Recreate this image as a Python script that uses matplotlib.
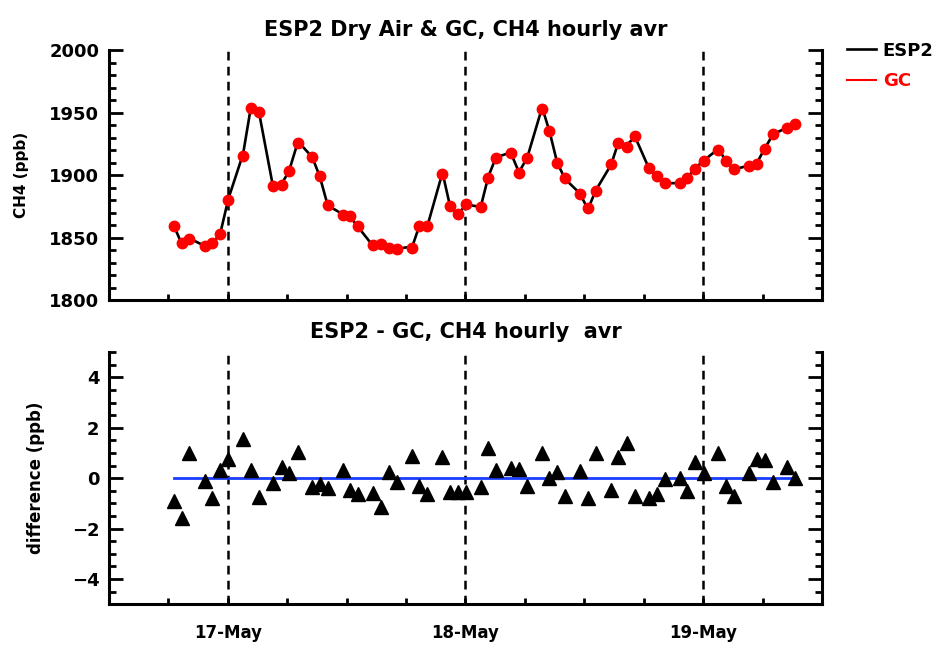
import numpy as np
import matplotlib
matplotlib.use('Agg')
import matplotlib.pyplot as plt
from matplotlib.ticker import MultipleLocator, FixedLocator

plt.rcParams['font.family'] = ['DejaVu Sans']
plt.rcParams['font.weight'] = 'bold'

# hours since 17-May 00:00
hours = [-5.40, -4.63, -3.91, -2.33, -1.56, -0.77, 0.06, 1.54, 2.32, 3.15,
         4.56, 5.43, 6.18, 7.09, 8.53, 9.28, 10.09, 11.62, 12.35, 13.17,
         14.64, 15.49, 16.25, 17.08, 18.63, 19.31, 20.12, 21.68, 22.46, 23.23,
         24.06, 25.54, 26.31, 27.08, 28.56, 29.40, 30.23, 31.74, 32.48, 33.25,
         34.05, 35.56, 36.36, 37.19, 38.70, 39.45, 40.29, 41.13, 42.54, 43.34,
         44.15, 45.65, 46.39, 47.16, 48.05, 49.54, 50.34, 51.10, 52.62, 53.45,
         54.23, 55.07, 56.48, 57.29]

gc_ch4 = [1859.4, 1846.0, 1848.5, 1843.3, 1846.0, 1852.7, 1880.4, 1915.3, 1953.5, 1950.8,
          1891.1, 1892.3, 1903.0, 1925.8, 1914.5, 1899.2, 1876.1, 1868.2, 1866.9, 1858.9,
          1844.1, 1844.7, 1841.4, 1841.1, 1841.9, 1858.9, 1858.9, 1901.1, 1875.0, 1868.9,
          1876.9, 1874.8, 1897.6, 1913.7, 1917.7, 1901.9, 1914.0, 1953.0, 1935.2, 1910.0,
          1897.6, 1885.0, 1873.4, 1887.1, 1908.6, 1925.3, 1922.6, 1931.2, 1906.0, 1899.2,
          1893.5, 1893.5, 1897.9, 1904.6, 1911.3, 1919.9, 1911.3, 1905.2, 1907.3, 1909.2,
          1920.5, 1932.8, 1937.4, 1940.9]

diff = [-0.89, -1.59, 1.00, -0.11, -0.80, 0.33, 0.76, 1.55, 0.33, -0.76,
        -0.17, 0.46, 0.20, 1.06, -0.33, -0.23, -0.40, 0.33, -0.48, -0.63,
        -0.57, -1.13, 0.26, -0.13, 0.89, -0.31, -0.63, 0.84, -0.53, -0.56,
        -0.53, -0.33, 1.19, 0.33, 0.40, 0.36, -0.29, 1.02, 0.00, 0.26,
        -0.71, 0.30, -0.80, 1.00, -0.47, 0.84, 1.39, -0.69, -0.80, -0.63,
        -0.04, 0.00, -0.49, 0.66, 0.20, 1.00, -0.29, -0.71, 0.20, 0.77,
        0.73, -0.13, 0.46, 0.00]

day_hours = [0, 24, 48]
day_labels = ['17-May', '18-May', '19-May']

t = np.array(hours)
gc = np.array(gc_ch4)
d = np.array(diff)
esp2 = gc + d
mean_diff = d.mean()

fig = plt.figure(figsize=(9.48, 6.47), dpi=100)
ax1 = fig.add_axes([0.115, 0.5363, 0.752, 0.3864])
ax2 = fig.add_axes([0.115, 0.066, 0.752, 0.3895])


def style_axis(ax, ymajor, yminor):
    ax.set_xlim(-12, 60)
    ax.spines['top'].set_visible(False)
    for s in ['left', 'right', 'bottom']:
        ax.spines[s].set_linewidth(2.2)
    ax.xaxis.set_major_locator(FixedLocator(day_hours))
    ax.xaxis.set_minor_locator(MultipleLocator(6))
    ax.yaxis.set_major_locator(MultipleLocator(ymajor))
    ax.yaxis.set_minor_locator(MultipleLocator(yminor))
    ax.tick_params(axis='y', which='both', direction='in', left=True, right=True,
                   width=2, labelsize=13, pad=7)
    ax.tick_params(axis='y', which='major', length=10)
    ax.tick_params(axis='y', which='minor', length=5)
    ax.tick_params(axis='x', which='both', direction='in', top=False, bottom=True,
                   width=2, length=4, labelsize=12, pad=14)
    for x in day_hours:
        ax.axvline(x, color='black', lw=1.8, ls=(0, (3.5, 2.5)), zorder=1)


# top panel
style_axis(ax1, 50, 10)
ax1.set_ylim(1800, 2000)
ax1.plot(t, esp2, color='black', lw=1.9, zorder=2, label='ESP2')
ax1.plot(t, gc, 'o', color='red', ms=7.5, zorder=3)
ax1.plot([], [], color='red', lw=1.5, label='GC')
ax1.set_xticklabels([])
ax1.set_title('ESP2 Dry Air & GC, CH4 hourly avr', fontsize=15, fontweight='bold', pad=10)
ax1.set_ylabel('CH4 (ppb)', fontsize=11, fontweight='bold')
ax1.yaxis.set_label_coords(-0.112, 0.5)
ax1.legend(loc='upper left', bbox_to_anchor=(1.022, 1.07), frameon=False,
           fontsize=13, handlelength=1.6, handletextpad=0.4, labelspacing=0.7,
           borderpad=0, labelcolor=['black', 'red'])

# bottom panel
style_axis(ax2, 2, 0.5)
ax2.set_ylim(-5, 5)
ax2.plot(t, d, '^', color='black', ms=9.5, zorder=3)
ax2.plot([t[0], t[-1]], [mean_diff, mean_diff], color='#1a3cff', lw=2, zorder=2)
ax2.set_xticklabels(day_labels)
ax2.set_title('ESP2 - GC, CH4 hourly  avr', fontsize=15, fontweight='bold', pad=10)
ax2.set_ylabel('difference (ppb)', fontsize=12, fontweight='bold')
ax2.yaxis.set_label_coords(-0.09, 0.5)

fig.savefig('out.png', dpi=100)
